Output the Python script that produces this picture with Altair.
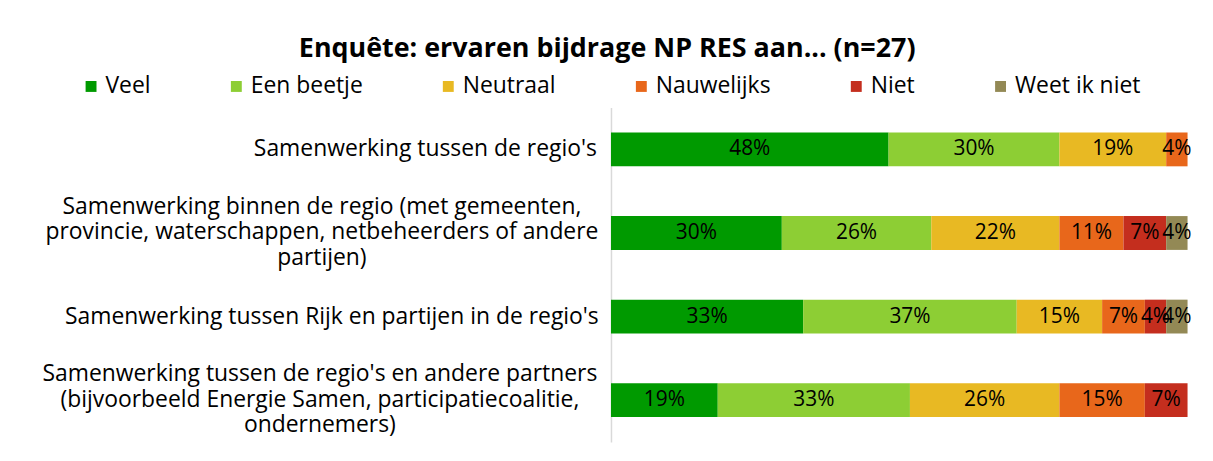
import altair as alt
import pandas as pd

categories = [
    "Samenwerking tussen de regio's",
    "Samenwerking binnen de regio (met gemeenten,|provincie, waterschappen, netbeheerders of andere|partijen)",
    "Samenwerking tussen Rijk en partijen in de regio's",
    "Samenwerking tussen de regio's en andere partners|(bijvoorbeeld Energie Samen, participatiecoalitie,|ondernemers)",
]
series = ["Veel", "Een beetje", "Neutraal", "Nauwelijks", "Niet", "Weet ik niet"]
colors = ["#009a00", "#8dce34", "#e8b923", "#e8671b", "#c42e1e", "#938955"]

veel = [48.1, 29.6, 33.3, 18.5]
een_beetje = [29.6, 25.9, 37.0, 33.3]
neutraal = [18.5, 22.2, 14.8, 25.9]
nauwelijks = [3.7, 11.1, 7.4, 14.8]
niet = [0.0, 7.4, 3.7, 7.4]
weet_ik_niet = [0.0, 3.7, 3.7, 0.0]

values = [veel, een_beetje, neutraal, nauwelijks, niet, weet_ik_niet]
rows = []
for j, s in enumerate(series):
    for i, c in enumerate(categories):
        v = values[j][i]
        if v > 0:
            rows.append({"cat": c, "series": s, "sidx": j, "value": v})
df = pd.DataFrame(rows)

FONT = "Open Sans"

ycat = alt.Y(
    "cat:N",
    sort=categories,
    scale=alt.Scale(paddingInner=0, paddingOuter=0),
    axis=alt.Axis(
        title=None,
        labelExpr="split(datum.label, '|')",
        labelAlign="center",
        labelPadding={
            "condition": [
                {"test": "indexof(datum.value, 'binnen') >= 0", "value": 291},
                {"test": "indexof(datum.value, 'Rijk') >= 0", "value": 281},
                {"test": "indexof(datum.value, 'partners') >= 0", "value": 293},
            ],
            "value": 187,
        },
        labelOffset={
            "condition": {"test": "indexof(datum.value, '|') >= 0", "value": -26},
            "value": 0,
        },
        ticks=False,
        domainColor="#d9d9d9",
        domainWidth=1.5,
        labelFont=FONT,
        labelFontSize=23,
        labelLineHeight=25.5,
        labelLimit=800,
        labelColor="#000000",
        minExtent=607,
        maxExtent=607,
    ),
)

bars = alt.Chart(df).mark_bar(size=34).encode(
    y=ycat,
    x=alt.X("value:Q", stack="zero", scale=alt.Scale(domain=[0, 100], nice=False), axis=None),
    color=alt.Color(
        "series:N",
        scale=alt.Scale(domain=series, range=colors),
        legend=alt.Legend(
            title=None,
            orient="none",
            legendX=-534,
            legendY=-33,
            direction="horizontal",
            columns=6,
            symbolType="square",
            symbolSize=120,
            symbolStrokeWidth=0,
            labelFont=FONT,
            labelFontSize=23,
            labelColor="#000000",
            labelOffset=3,
            columnPadding=74,
        ),
    ),
    order=alt.Order("sidx:Q"),
)

text = (
    alt.Chart(df)
    .transform_stack(stack="value", groupby=["cat"], as_=["v0", "v1"], sort=[alt.SortField("sidx")])
    .transform_calculate(mid="(datum.v0 + datum.v1) / 2", label="format(datum.value, '.0f') + '%'")
    .mark_text(font=FONT, fontSize=21, color="#000000")
    .encode(
        y=alt.Y("cat:N", sort=categories),
        x=alt.X("mid:Q", scale=alt.Scale(domain=[0, 100], nice=False)),
        text="label:N",
    )
)

chart = (
    alt.layer(bars, text)
    .properties(
        width=580,
        height=336,
        background="white",
        padding={"left": 7, "top": 34, "right": 21, "bottom": 20},
        title=alt.TitleParams(
            "Enquête: ervaren bijdrage NP RES aan... (n=27)",
            font=FONT,
            fontSize=27,
            fontWeight="bold",
            color="#000000",
            anchor="middle",
            frame="bounds",
            offset=12,
            dx=8,
        ),
    )
    .configure_view(stroke=None)
)

chart.save("out.html", embed_options={"renderer": "svg", "actions": False})
